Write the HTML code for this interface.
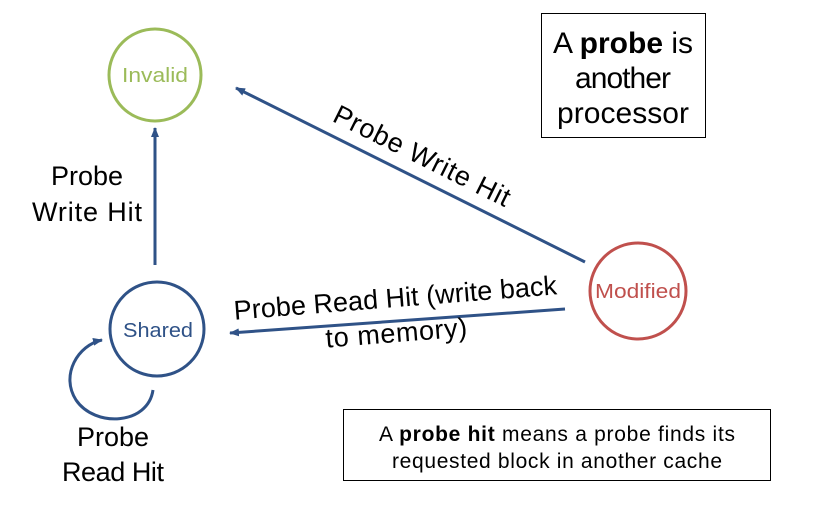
<!DOCTYPE html>
<html><head><style>
body{margin:0;background:#fff;}
svg{display:block;font-family:"Liberation Sans",sans-serif;}
</style></head><body>
<svg width="817" height="506" viewBox="0 0 817 506">
<defs>
<marker id="a" markerWidth="10" markerHeight="8" refX="9" refY="4" orient="auto" markerUnits="userSpaceOnUse">
<path d="M0,0 L10,4 L0,8 Z" fill="#2f5287"/></marker>
</defs>
<circle cx="155" cy="75" r="46" fill="none" stroke="#9bbb59" stroke-width="3"/>
<text x="155" y="82" text-anchor="middle" font-size="20" fill="#9bbb59" textLength="66" lengthAdjust="spacingAndGlyphs">Invalid</text>
<circle cx="157" cy="329" r="47" fill="none" stroke="#2f5287" stroke-width="3"/>
<text x="158" y="337" text-anchor="middle" font-size="20" fill="#2f5287" textLength="70" lengthAdjust="spacingAndGlyphs">Shared</text>
<circle cx="638" cy="291" r="48" fill="none" stroke="#c0504d" stroke-width="3"/>
<text x="638" y="298" text-anchor="middle" font-size="20" fill="#c0504d" textLength="86" lengthAdjust="spacingAndGlyphs">Modified</text>
<g stroke="#2f5287" stroke-width="3" fill="none">
<line x1="155" y1="265" x2="155" y2="128" marker-end="url(#a)"/>
<line x1="585" y1="262" x2="236" y2="88" marker-end="url(#a)"/>
<line x1="565" y1="309" x2="230" y2="333" marker-end="url(#a)"/>
<path d="M153,390 C148,425 95,428 76,400 C60,375 78,345 102,340" marker-end="url(#a)"/>
</g>
<g font-size="27" fill="#000" text-anchor="middle" lengthAdjust="spacingAndGlyphs">
<text x="87" y="185" textLength="72">Probe</text>
<text x="87" y="221" textLength="110">Write Hit</text>
<text x="113" y="446" textLength="72">Probe</text>
<text x="113" y="481" textLength="102">Read Hit</text>
<text transform="translate(418,164) rotate(26.5)" textLength="194">Probe Write Hit</text>
<text transform="translate(396,307) rotate(-4.5)" textLength="324">Probe Read Hit (write back</text>
<text transform="translate(397,342) rotate(-4.5)" textLength="142">to memory)</text>
</g>
<rect x="541.5" y="13.5" width="164" height="124" fill="none" stroke="#000" stroke-width="1"/>
<g font-size="30" text-anchor="middle" fill="#000" lengthAdjust="spacingAndGlyphs">
<text x="623" y="53" textLength="140">A <tspan font-weight="bold">probe</tspan> is</text>
<text x="623" y="88" textLength="96">another</text>
<text x="623" y="123" textLength="132">processor</text>
</g>
<rect x="343.5" y="409.5" width="427" height="71" fill="none" stroke="#000" stroke-width="1"/>
<g font-size="21" text-anchor="middle" fill="#000" lengthAdjust="spacingAndGlyphs">
<text x="557" y="441" textLength="356">A <tspan font-weight="bold">probe hit</tspan> means a probe finds its</text>
<text x="557" y="468" textLength="330">requested block in another cache</text>
</g>
</svg>
</body></html>
